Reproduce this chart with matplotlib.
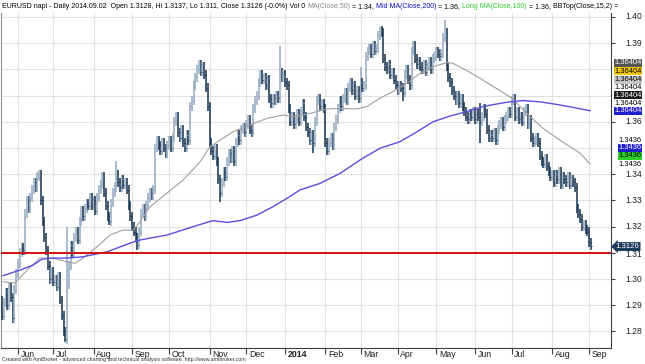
import numpy as np
import pandas as pd
import matplotlib
matplotlib.use('Agg')
import matplotlib.pyplot as plt

# Daily closes, EURUSD, 2013-05-20 .. 2014-09-02
start_date = '2013-05-20'
end_date = '2014-09-02'
closes = [
    1.292, 1.286, 1.291, 1.295, 1.290, 1.297, 1.293, 1.285, 1.296, 1.302,
    1.306, 1.310, 1.312, 1.311, 1.325, 1.330, 1.327, 1.331, 1.334, 1.337,
    1.335, 1.339, 1.340, 1.330, 1.322, 1.316, 1.311, 1.305, 1.300, 1.303,
    1.299, 1.300, 1.297, 1.301, 1.292, 1.286, 1.280, 1.277, 1.298, 1.305,
    1.313, 1.310, 1.316, 1.318, 1.315, 1.322, 1.326, 1.324, 1.327, 1.329,
    1.328, 1.331, 1.328, 1.330, 1.326, 1.331, 1.334, 1.336, 1.339, 1.333,
    1.328, 1.324, 1.322, 1.329, 1.333, 1.335, 1.340, 1.337, 1.335, 1.338,
    1.336, 1.337, 1.334, 1.328, 1.324, 1.320, 1.318, 1.316, 1.313, 1.318,
    1.325, 1.327, 1.324, 1.328, 1.331, 1.333, 1.332, 1.334, 1.350, 1.353,
    1.351, 1.349, 1.352, 1.350, 1.348, 1.351, 1.353, 1.350, 1.354, 1.360,
    1.362, 1.356, 1.354, 1.357, 1.352, 1.350, 1.355, 1.353, 1.366, 1.368,
    1.374, 1.377, 1.380, 1.382, 1.379, 1.381, 1.378, 1.373, 1.366, 1.352,
    1.349, 1.347, 1.350, 1.345, 1.338, 1.333, 1.337, 1.341, 1.339, 1.345,
    1.348, 1.346, 1.349, 1.345, 1.352, 1.355, 1.353, 1.357, 1.358, 1.356,
    1.359, 1.361, 1.357, 1.356, 1.365, 1.368, 1.370, 1.375, 1.378, 1.376,
    1.377, 1.374, 1.376, 1.369, 1.367, 1.369, 1.368, 1.370, 1.369, 1.379,
    1.377, 1.378, 1.375, 1.374, 1.365, 1.360, 1.362, 1.359, 1.361, 1.363,
    1.360, 1.364, 1.367, 1.362, 1.358, 1.356, 1.353, 1.355, 1.352, 1.360,
    1.368, 1.369, 1.366, 1.367, 1.365, 1.352, 1.349, 1.352, 1.354, 1.351,
    1.358, 1.361, 1.365, 1.368, 1.366, 1.369, 1.371, 1.368, 1.373, 1.375,
    1.372, 1.374, 1.370, 1.372, 1.369, 1.375, 1.373, 1.374, 1.385, 1.387,
    1.388, 1.386, 1.389, 1.387, 1.388, 1.393, 1.395, 1.394, 1.384, 1.381,
    1.380, 1.382, 1.378, 1.379, 1.376, 1.374, 1.372, 1.374, 1.373, 1.371,
    1.378, 1.380, 1.376, 1.374, 1.387, 1.389, 1.384, 1.382, 1.383, 1.381,
    1.380, 1.382, 1.379, 1.381, 1.383, 1.380, 1.384, 1.385, 1.387, 1.386,
    1.385, 1.386, 1.392, 1.394, 1.381, 1.377, 1.375, 1.372, 1.370, 1.368,
    1.370, 1.367, 1.369, 1.366, 1.364, 1.362, 1.361, 1.363, 1.362, 1.364,
    1.361, 1.363, 1.362, 1.360, 1.362, 1.365, 1.363, 1.357, 1.354, 1.355,
    1.354, 1.356, 1.353, 1.357, 1.359, 1.360, 1.358, 1.361, 1.362, 1.364,
    1.363, 1.368, 1.369, 1.362, 1.364, 1.361, 1.362, 1.360, 1.364, 1.365,
    1.359, 1.361, 1.354, 1.352, 1.353, 1.354, 1.352, 1.347, 1.345, 1.344,
    1.346, 1.343, 1.341, 1.339, 1.340, 1.337, 1.340, 1.338, 1.341, 1.336,
    1.339, 1.338, 1.337, 1.339, 1.336, 1.338, 1.337, 1.335, 1.327, 1.325,
    1.323, 1.320, 1.321, 1.319, 1.318, 1.314, 1.3126,
]

# extreme wicks visible on the chart: (bar, low, high)
wick_bar = [37, 38, 62, 66, 78, 125, 133, 159, 178, 205, 216, 229, 253, 273]
wick_low = [1.276, None, 1.3205, None, 1.311, 1.3295, 1.343, None, 1.348, None, None, 1.368, None, 1.352]
wick_high = [None, 1.320, None, 1.345, None, None, None, 1.389, None, 1.381, 1.396, None, 1.399, 1.367]

# MA(Close,50) read at bar positions
ma50_bar = [1.5, 8.3, 15.1, 22.5, 30, 38, 42.4, 47, 55, 62.4, 69.8, 75.5, 79.4, 85, 94.8,
            104, 113.6, 119.3, 126.7, 132.4, 142, 151.7, 160.8, 166.5, 176.2, 185.9,
            193.3, 203, 208.6, 216, 223.4, 233, 238.8, 246.2, 254.2, 257.6, 265.5,
            273, 280.4, 290, 294, 301.4, 308.8, 316.8, 324.2, 329.9, 335.6]
ma50_val = [1.299, 1.2985, 1.3034, 1.308, 1.308, 1.3065, 1.306, 1.308, 1.3123, 1.3168,
            1.3187, 1.3187, 1.3218, 1.3275, 1.3328, 1.3378, 1.3447, 1.3505, 1.3537,
            1.3562, 1.3588, 1.3613, 1.3626, 1.362, 1.3632, 1.3649, 1.3651, 1.3649,
            1.3658, 1.369, 1.3715, 1.3755, 1.3785, 1.381, 1.3826, 1.3823, 1.3795,
            1.3766, 1.3735, 1.3695, 1.367, 1.362, 1.3575, 1.3537, 1.3505, 1.348, 1.3439]

# Mid MA(Close,200)
ma200_bar = [1.5, 11.1, 18.5, 23.7, 30, 38, 47, 60.7, 73.8, 79.4, 94.8, 113.6, 121, 129,
             136.4, 146, 155.1, 163.1, 170.5, 181.9, 193.3, 204.6, 216, 227.4, 237.1,
             246.2, 255.9, 265.5, 274.6, 284.3, 290, 297.4, 307.1, 316.8, 325.9, 335.6]
ma200_val = [1.3013, 1.3034, 1.3053, 1.3076, 1.308, 1.308, 1.3085, 1.3104, 1.3137, 1.3149,
             1.3168, 1.3208, 1.3223, 1.3216, 1.3223, 1.3244, 1.3276, 1.3308, 1.334,
             1.3365, 1.3403, 1.3454, 1.3499, 1.3524, 1.3562, 1.36, 1.3622, 1.3639,
             1.3658, 1.367, 1.3676, 1.3681, 1.3676, 1.3666, 1.3655, 1.3642]

support_level = 1.3101
y_ticks = [1.40, 1.39, 1.36, 1.34, 1.33, 1.32, 1.31, 1.30, 1.29, 1.28]

plt.rcParams['font.family'] = ['Liberation Sans', 'DejaVu Sans']

dates = pd.bdate_range(start_date, end_date)
idx = np.arange(len(closes))
c = np.array(closes)
o = np.r_[c[0], c[:-1]]
hi = np.maximum(o, c) + 0.0017
lo = np.minimum(o, c) - 0.0017
for b, l, h in zip(wick_bar, wick_low, wick_high):
    if l is not None:
        lo[b] = l
    if h is not None:
        hi[b] = h

W, H = 645, 364
fig = plt.figure(figsize=(W / 100, H / 100), dpi=100)
ax = fig.add_axes([1 / W, (H - 348) / H, 610 / W, (348 - 13) / H])
ax.set_xlim(0.32, 347.5)
ax.set_ylim(1.2737, 1.4015)

# grid
month_pos = [i for i in range(1, len(dates)) if dates[i].month != dates[i - 1].month]
for m in month_pos:
    ax.axvline(m, color='#e2e2e2', lw=0.8, zorder=0)
for v in np.arange(1.28, 1.405, 0.01):
    ax.axhline(v, color='#e2e2e2', lw=0.8, zorder=0)

# bars
up = c >= o
cols = np.where(up, '#93aac2', '#16304d')
ax.vlines(idx, lo, hi, colors=cols, lw=1.1, zorder=3)
ax.hlines(o, idx - 0.5, idx, colors=cols, lw=0.7, zorder=3)
ax.hlines(c, idx, idx + 0.5, colors=cols, lw=0.7, zorder=3)

ax.plot(ma50_bar, ma50_val, color='#a0a0a0', lw=0.8, zorder=4)
ax.plot(ma200_bar, ma200_val, color='#5a4ee0', lw=1.0, zorder=4)
ax.axhline(support_level, color='#d01010', lw=1.4, zorder=5)

ax.spines['top'].set_visible(False)
ax.spines['left'].set_color('#909090')
ax.spines['right'].set_color('#404040')
ax.spines['bottom'].set_color('#404040')
ax.set_xticks(month_pos)
ax.set_xticklabels([])
ax.tick_params(axis='x', length=4, color='#404040', direction='out')
ax.set_yticks(y_ticks)
ax.yaxis.tick_right()
ax.set_yticklabels([])
ax.tick_params(axis='y', length=3, color='#404040', direction='out')

# month labels
for m in month_pos:
    d = dates[m]
    lab = '2014' if d.month == 1 else d.strftime('%b')
    ax.text(m + 1.5, -0.005, lab, transform=ax.get_xaxis_transform(), ha='left', va='top',
            fontsize=6.3, fontweight='bold' if d.month == 1 else 'normal', color='#202020')

# right labels
yt = ax.get_yaxis_transform()
xr = (642 - 1) / 610
for v in y_ticks:
    yy = v - 0.0008 if v == 1.31 else v
    ax.text(xr, yy, '%.2f' % v, transform=yt, ha='right', va='center', fontsize=6.2,
            color='#202020', clip_on=False)

ma200_boxes = [(1.38256, '#555555', 'white'), (1.37927, '#f2c600', 'black'),
               (1.37595, '#c4c4c4', 'black'), (1.37317, None, 'black'),
               (1.37011, '#1a1a1a', 'white'), (1.36706, None, 'black'),
               (1.36424, '#1f1fd0', 'white')]
ma50_boxes = [(1.35267, None, 'black'), (1.35011, '#1f1fd0', 'white'),
              (1.34706, '#2ad02a', 'black'), (1.34389, None, 'black')]
for boxes, txt in [(ma200_boxes, '1.36404'), (ma50_boxes, '1.3436')]:
    for v, bg, fg in boxes:
        bb = dict(boxstyle='square,pad=0.06', fc=bg, ec='none') if bg else None
        ax.text(xr, v, txt, transform=yt, ha='right', va='center', fontsize=5.4,
                color=fg, bbox=bb, clip_on=False, zorder=10)

ax.annotate('1.3126', xy=(1.0, 1.3124), xycoords=yt, xytext=(xr - 0.004, 1.3124), textcoords=yt,
            ha='right', va='center', fontsize=5.6, color='white', annotation_clip=False,
            bbox=dict(boxstyle='larrow,pad=0.12', fc='#1d3d5e', ec='none'), zorder=10)

# header
pieces = [
    ('EURUSD napi - Daily 2014.09.02  Open 1.3128, Hi 1.3137, Lo 1.311, Close 1.3126 (-0.0%) Vol 0 ', '#000000'),
    ('MA(Close,50)', '#888888'), (' = 1.34, ', '#000000'),
    ('Mid MA(Close,200)', '#1010c0'), (' = 1.36, ', '#000000'),
    ('Long MA(Close,100)', '#30c830'), (' = 1.36, ', '#000000'),
    ('BBTop(Close,15,2) =', '#000000'),
]
prev = fig.text(2 / W, 1 - 7 / H, pieces[0][0], color=pieces[0][1], fontsize=5.0, va='center')
for t, col in pieces[1:]:
    prev = ax.annotate(t, xy=(1, 0), xycoords=prev, va='bottom', ha='left', color=col,
                       fontsize=5.0, annotation_clip=False)

fig.text(2 / W, 1 - 360 / H, 'Created with AmiBroker - advanced charting and technical analysis software. http://www.amibroker.com',
         fontsize=3.8, color='#333333', va='center')

fig.savefig('out.png', dpi=100)
